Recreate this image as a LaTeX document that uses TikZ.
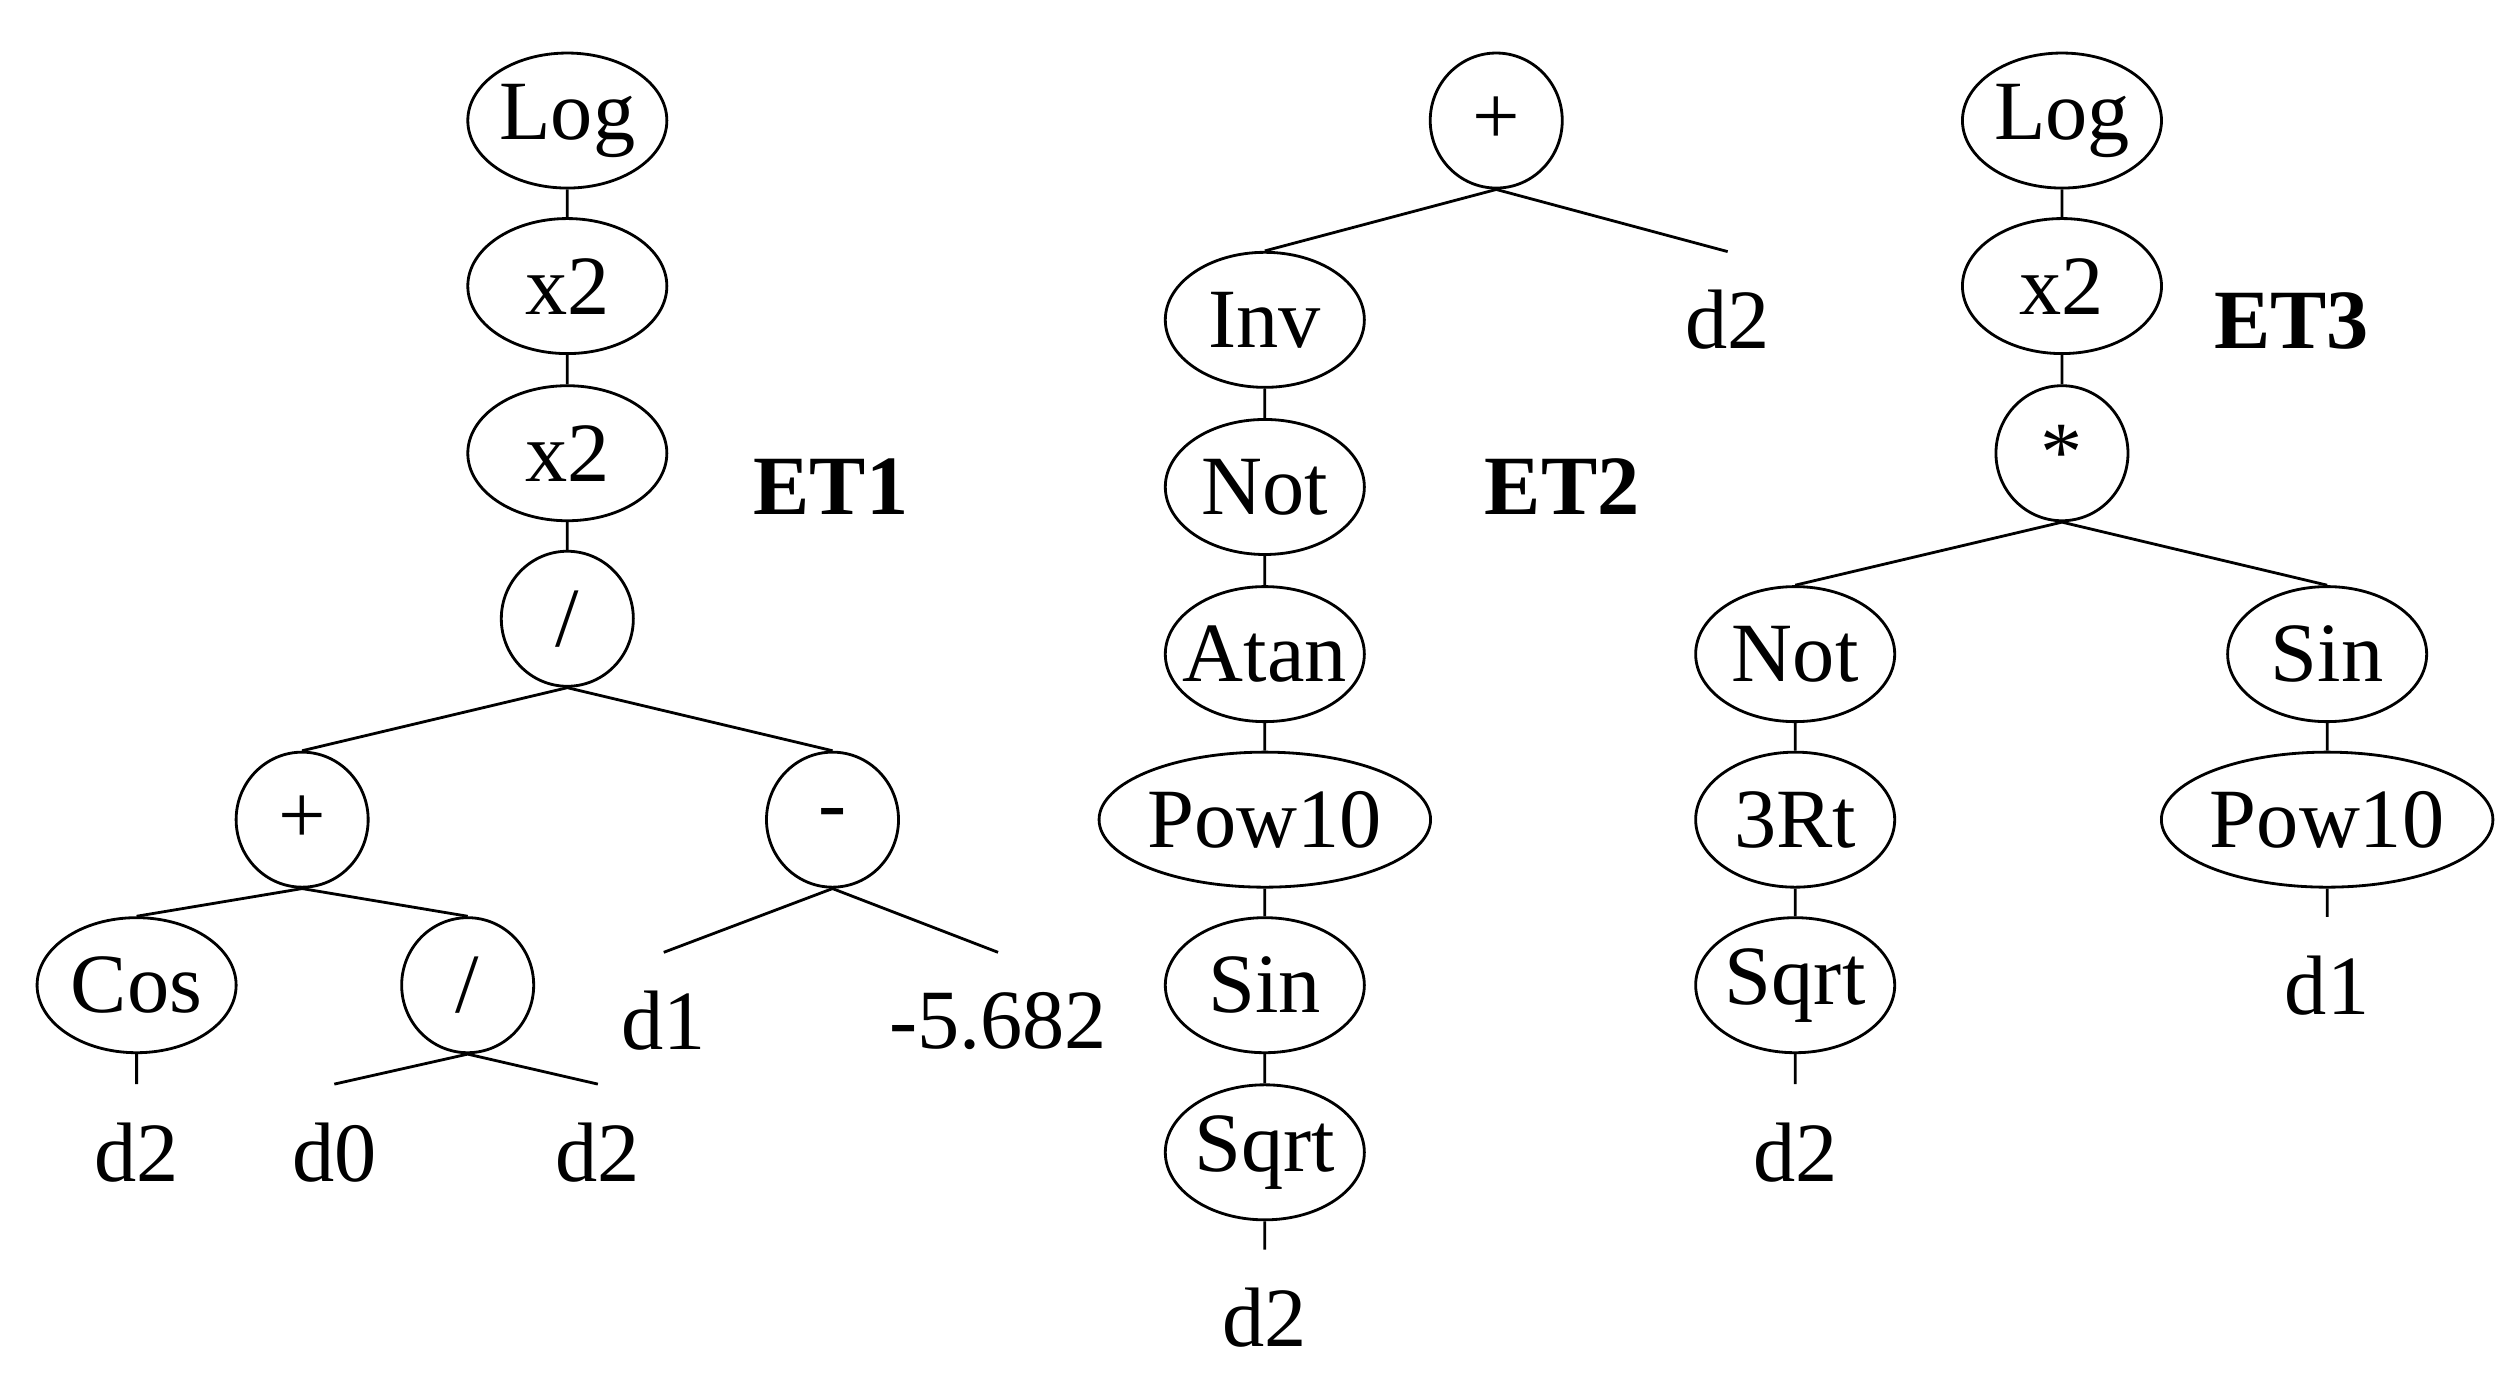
\documentclass[tikz,border=0pt]{standalone}
\usepackage{fontspec}
\setmainfont{Liberation Serif}
\usetikzlibrary{shapes.geometric}
\begin{document}
\begin{tikzpicture}[x=0.01607cm,y=-0.01607cm,
  every node/.style={font=\fontsize{24}{28}\selectfont},
  op/.style={ellipse,draw,line width=0.8pt,inner sep=0pt,minimum width=1.99cm,minimum height=1.35cm},
  cop/.style={op,minimum width=1.32cm},
  wop/.style={op,minimum width=3.31cm},
  leaf/.style={inner sep=0pt,minimum height=1.35cm},
  lbl/.style={font=\fontsize{24}{28}\selectfont\bfseries},
  e/.style={line width=0.8pt}]
\useasboundingbox (0,0) rectangle (1568,861);
% ET1
\node[op] (a1) at (353,75) {Log};
\node[op] (a2) at (353,178) {x2};
\node[op] (a3) at (353,282) {x2};
\node[cop] (a4) at (353,385) {/};
\node[cop] (a5) at (188,510) {+};
\node[cop] (a6) at (518,510) {-};
\node[op] (a7) at (85,613) {Cos};
\node[cop] (a8) at (291,613) {/};
\node[leaf] (a9) at (85,717) {d2};
\node[leaf] (a10) at (208,717) {d0};
\node[leaf] (a11) at (372,717) {d2};
\node[leaf] (a12) at (413,635) {d1};
\node[leaf] (a13) at (621,635) {-5.682};
\node[lbl] (l1) at (517,303) {ET1};
\draw[e] (a1.south)--(a2.north) (a2.south)--(a3.north) (a3.south)--(a4.north)
 (a4.south)--(a5.north) (a4.south)--(a6.north) (a5.south)--(a7.north) (a5.south)--(a8.north)
 (a7.south)--(a9.north) (a8.south)--(a10.north) (a8.south)--(a11.north)
 (a6.south)--(a12.north) (a6.south)--(a13.north);
% ET2
\node[cop] (b1) at (931,75) {+};
\node[op] (b2) at (787,199) {Inv};
\node[leaf] (b3) at (1075,199) {d2};
\node[op] (b4) at (787,303) {Not};
\node[op,inner xsep=-8pt] (b5) at (787,407) {Atan};
\node[wop] (b6) at (787,510) {Pow10};
\node[op] (b7) at (787,613) {Sin};
\node[op] (b8) at (787,717) {Sqrt};
\node[leaf] (b9) at (787,820) {d2};
\node[lbl] (l2) at (972,303) {ET2};
\draw[e] (b1.south)--(b2.north) (b1.south)--(b3.north) (b2.south)--(b4.north)
 (b4.south)--(b5.north) (b5.south)--(b6.north) (b6.south)--(b7.north)
 (b7.south)--(b8.north) (b8.south)--(b9.north);
% ET3
\node[op] (c1) at (1283,75) {Log};
\node[op] (c2) at (1283,178) {x2};
\node[cop] (c3) at (1283,282) {*};
\node[op] (c4) at (1117,407) {Not};
\node[op] (c5) at (1448,407) {Sin};
\node[op] (c6) at (1117,510) {3Rt};
\node[wop] (c7) at (1448,510) {Pow10};
\node[op] (c8) at (1117,613) {Sqrt};
\node[leaf] (c9) at (1117,717) {d2};
\node[leaf] (c10) at (1448,613) {d1};
\node[lbl] (l3) at (1426,200) {ET3};
\draw[e] (c1.south)--(c2.north) (c2.south)--(c3.north) (c3.south)--(c4.north)
 (c3.south)--(c5.north) (c4.south)--(c6.north) (c6.south)--(c8.north)
 (c8.south)--(c9.north) (c5.south)--(c7.north) (c7.south)--(c10.north);
\end{tikzpicture}
\end{document}
